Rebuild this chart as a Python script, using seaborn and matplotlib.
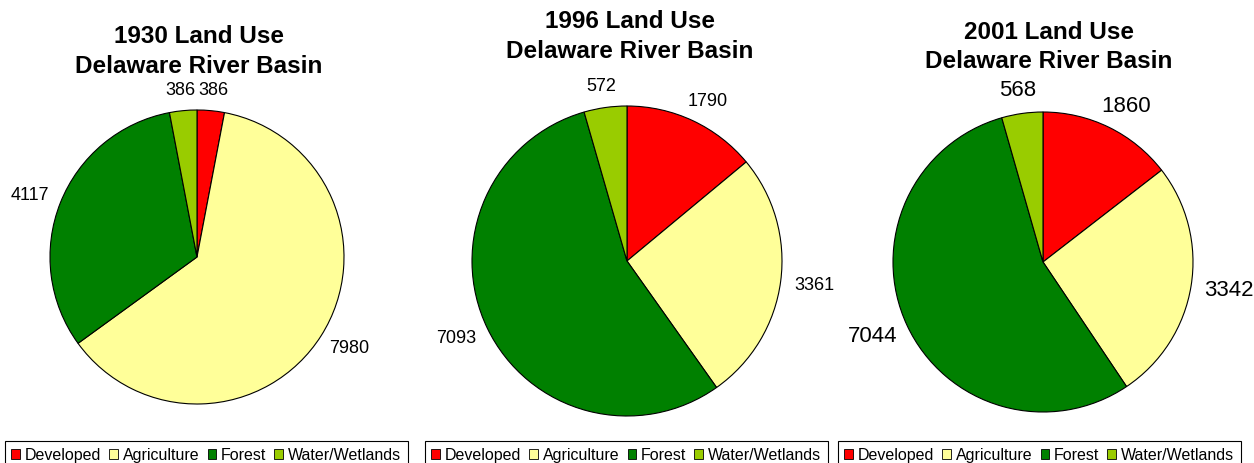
import matplotlib
matplotlib.use("Agg")
import numpy as np
import matplotlib.pyplot as plt
import seaborn as sns

categories = ["Developed", "Agriculture", "Forest", "Water/Wetlands"]
colors = ["#FF0000", "#FFFF99", "#008000", "#99CC00"]
years = ["1930", "1996", "2001"]
values_1930 = [386, 7980, 4117, 386]
values_1996 = [1790, 3361, 7093, 572]
values_2001 = [1860, 3342, 7044, 568]
series = [values_1930, values_1996, values_2001]

sns.set_theme(style="white")
plt.rcParams["font.family"] = ["Liberation Sans", "DejaVu Sans"]
plt.rcParams["text.color"] = "black"
palette = sns.color_palette(colors)

W, H = 1254, 464
fig = plt.figure(figsize=(W / 100, H / 100), dpi=100)

# pixel layout: center, radius, label size, title center x, title baselines, legend left x
panels = [
    dict(cx=197, cy=258, r=147, lfs=13, tx=199, tb=(43, 73), lx=5),
    dict(cx=627, cy=262, r=155, lfs=13, tx=630, tb=(28, 58), lx=425),
    dict(cx=1043, cy=263, r=150, lfs=16, tx=1049, tb=(39, 68), lx=838),
]

axes_info = []
for year, vals, p in zip(years, series, panels):
    r = p["r"]
    ax = fig.add_axes([(p["cx"] - r) / W, (H - p["cy"] - r) / H, 2 * r / W, 2 * r / H])
    wedges, texts = ax.pie(
        vals, labels=[str(v) for v in vals], colors=palette, startangle=90,
        counterclock=False, labeldistance=1.09,
        wedgeprops=dict(edgecolor="black", linewidth=0.8),
        textprops=dict(fontsize=p["lfs"], color="black"),
    )
    for t in texts:
        t.set_horizontalalignment("center")
        t.set_verticalalignment("center")
    ax.set_xlim(-1, 1)
    ax.set_ylim(-1, 1)
    ax.set_aspect("equal")
    ax.axis("off")
    axes_info.append((ax, wedges, texts, r))
    line1, line2 = f"{year} Land Use", "Delaware River Basin"
    for line, yb in zip((line1, line2), p["tb"]):
        fig.text(p["tx"] / W, 1 - yb / H, line, ha="center", va="baseline",
                 fontsize=17.5, fontweight="bold", color="black")
    leg = fig.legend(wedges, categories, loc="upper left",
                     bbox_to_anchor=(p["lx"] / W, 1 - 442 / H), ncol=4,
                     fontsize=11.5, frameon=True, fancybox=False, edgecolor="black",
                     framealpha=1, handlelength=0.55, handleheight=0.55,
                     handletextpad=0.3, columnspacing=0.5, borderpad=0.4,
                     borderaxespad=0)
    leg.get_frame().set_linewidth(0.8)
    for h in leg.legend_handles:
        h.set_edgecolor("black")
        h.set_linewidth(0.6)

# push each label outward so its box sits just outside the pie (Excel-style)
fig.canvas.draw()
renderer = fig.canvas.get_renderer()
for ax, wedges, texts, r in axes_info:
    for w, t in zip(wedges, texts):
        ang = np.deg2rad((w.theta1 + w.theta2) / 2)
        ux, uy = np.cos(ang), np.sin(ang)
        bb = t.get_window_extent(renderer)
        x0, y0 = t.get_position()
        t.set_position((x0 + ux * bb.width / 2 / r, y0 + uy * bb.height / 2 / r))

fig.savefig("out.png", dpi=100)
